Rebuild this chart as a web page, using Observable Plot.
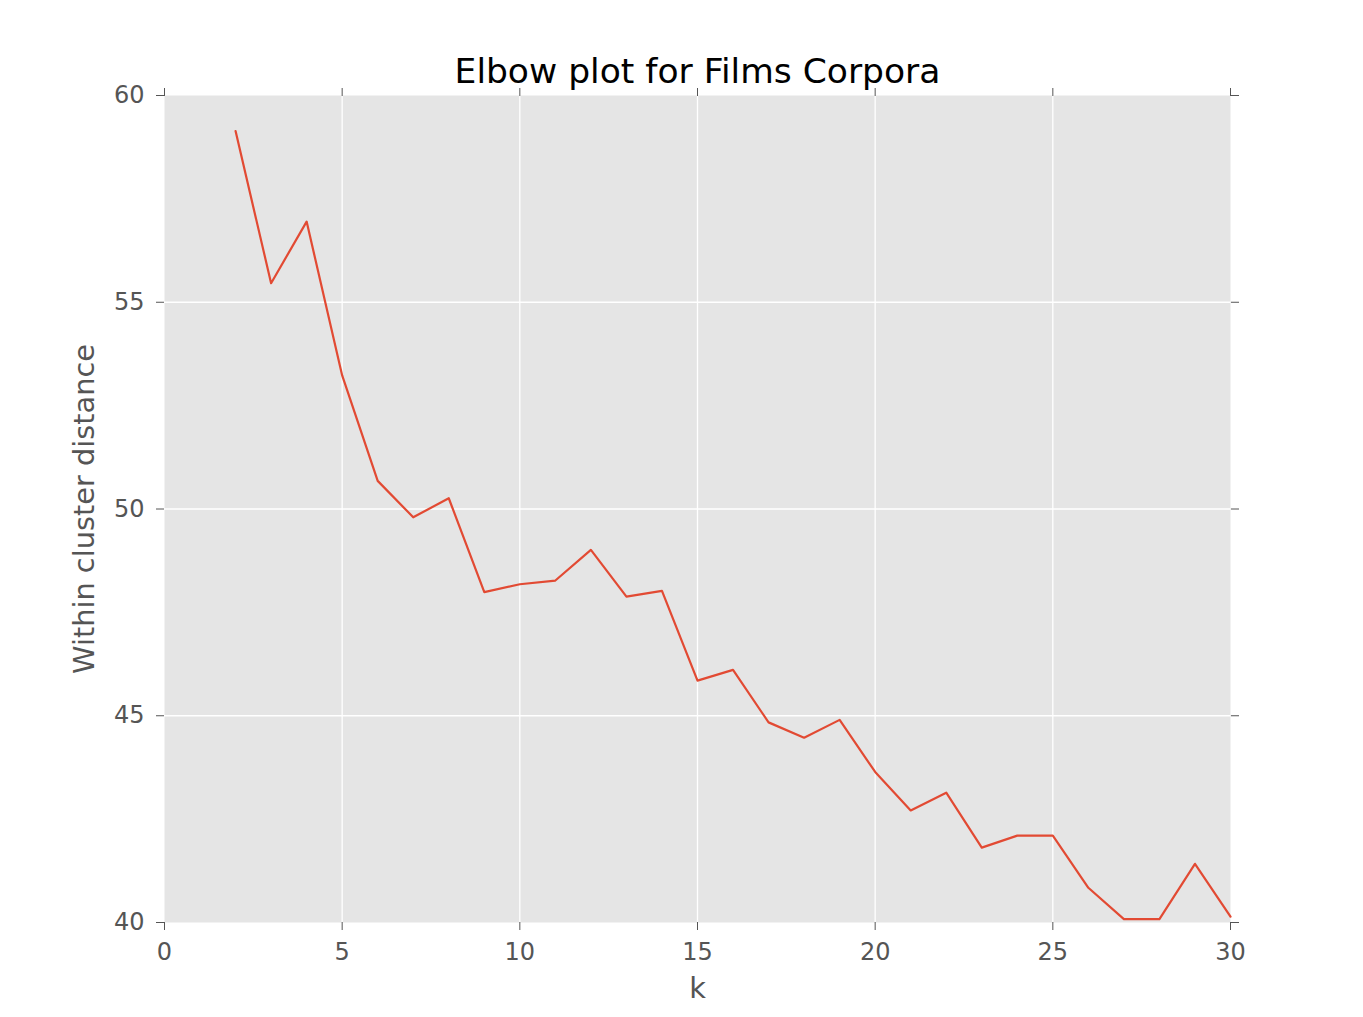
<!DOCTYPE html>
<html>
<head>
<meta charset="utf-8">
<script src="https://cdn.jsdelivr.net/npm/d3@7"></script>
<script src="https://cdn.jsdelivr.net/npm/@observablehq/plot@0.6"></script>
<style>
  html, body { margin: 0; padding: 0; background: #ffffff; }
</style>
</head>
<body>
<div id="chart"></div>
<script>
const kValues = [2, 3, 4, 5, 6, 7, 8, 9, 10, 11, 12, 13, 14, 15, 16, 17, 18, 19, 20, 21, 22, 23, 24, 25, 26, 27, 28, 29, 30];
const distances = [59.14, 55.46, 56.95, 53.23, 50.68, 49.80, 50.26, 47.99, 48.18, 48.27, 49.01, 47.88, 48.02, 45.85, 46.11, 44.84, 44.47, 44.90, 43.64, 42.71, 43.14, 41.81, 42.10, 42.10, 40.84, 40.08, 40.08, 41.42, 40.14];
const xTicks = [0, 5, 10, 15, 20, 25, 30];
const yTicks = [40, 45, 50, 55, 60];
const titleText = "Elbow plot for Films Corpora";
const xLabel = "k";
const yLabel = "Within cluster distance";

const data = kValues.map((k, i) => ({k, d: distances[i]}));
const tickColor = "#555555";

const chart = Plot.plot({
  width: 1363,
  height: 1017,
  marginLeft: 164,
  marginRight: 133,
  marginTop: 95,
  marginBottom: 95,
  style: {fontFamily: "'DejaVu Sans', sans-serif", fontSize: "24px", background: "#ffffff", overflow: "visible"},
  x: {domain: [0, 30]},
  y: {domain: [40, 60]},
  marks: [
    Plot.frame({fill: "#E5E5E5", stroke: null}),
    Plot.gridX({ticks: xTicks.slice(1, -1), stroke: "#ffffff", strokeOpacity: 1, strokeWidth: 1.3}),
    Plot.gridY({ticks: yTicks.slice(1, -1), stroke: "#ffffff", strokeOpacity: 1, strokeWidth: 1.3}),
    Plot.axisX({ticks: xTicks, anchor: "bottom", tickSize: 8, tickPadding: 12, color: tickColor, label: null, tickFormat: d => String(d)}),
    Plot.axisX({ticks: xTicks, anchor: "top", tickSize: 8, color: tickColor, label: null, tickFormat: () => ""}),
    Plot.axisY({ticks: yTicks, anchor: "left", tickSize: 8, tickPadding: 12, color: tickColor, label: null, tickFormat: d => String(d)}),
    Plot.axisY({ticks: yTicks, anchor: "right", tickSize: 8, color: tickColor, label: null, tickFormat: () => ""}),
    Plot.line(data, {x: "k", y: "d", stroke: "#E24A33", strokeWidth: 2.2}),
    Plot.text([titleText], {text: d => d, frameAnchor: "top", lineAnchor: "middle", dy: -24, fontSize: 34.5, fill: "#000000"}),
    Plot.text([yLabel], {text: d => d, frameAnchor: "left", textAnchor: "middle", lineAnchor: "middle", dx: -80, rotate: -90, fontSize: 28.8, fill: tickColor}),
    Plot.text([xLabel], {text: d => d, frameAnchor: "bottom", lineAnchor: "middle", dy: 66, fontSize: 28.8, fill: tickColor})
  ]
});
document.getElementById("chart").appendChild(chart);
</script>
</body>
</html>
